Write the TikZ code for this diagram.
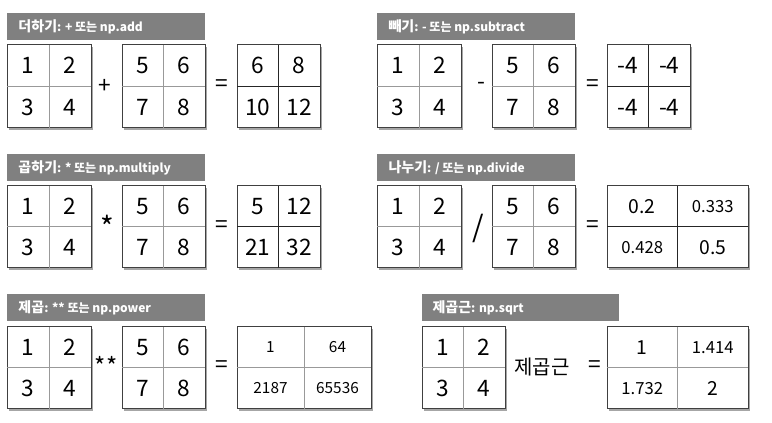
\documentclass[tikz,border=0pt]{standalone}
\usepackage{fontspec}
\newfontfamily\kr{Noto Sans CJK KR}
\usetikzlibrary{calc}

\newcommand{\midnum}{\fontsize{14.5}{14.5}\selectfont}
\newcommand{\smallnum}{\fontsize{12.5}{12.5}\selectfont}
\newcommand{\tinynum}{\fontsize{11.5}{11.5}\selectfont}
\newcommand{\headkr}{\bfseries\fontsize{10.5}{12}\selectfont}
\newcommand{\headrest}{\bfseries\fontsize{9}{11}\selectfont}

\tikzset{every picture/.style={line width=0.75pt},
  headbar/.style={fill=black!50},
  headtext/.style={anchor=west, text=white, inner sep=0pt, font=\kr},
  gridbox/.style={draw=black!75, fill=white},
  gridshadow/.style={fill=black!35},
  gridline/.style={draw=black!40},
  resultgrid/.style={gridline/.style={draw=black!85}},
  num/.style={inner sep=0pt, font=\kr\fontsize{17}{17}\selectfont},
  opsign/.style={inner sep=0pt, font=\kr\fontsize{17}{17}\selectfont},
}

% 2x2 grid: [options]{name}{(top left)}{(bottom right)}{a}{b}{c}{d}
\newcommand{\numgrid}[8][]{%
  \begin{scope}[#1]
  \path #3 coordinate (#2nw) #4 coordinate (#2se);
  \coordinate (#2m) at ($(#2nw)!0.5!(#2se)$);
  \fill[gridshadow] ($(#2nw)+(2,2)$) rectangle ($(#2se)+(2,2)$);
  \draw[gridbox] (#2nw) rectangle (#2se);
  \draw[gridline] (#2m |- #2nw) -- (#2m |- #2se);
  \draw[gridline] (#2m -| #2nw) -- (#2m -| #2se);
  \node[num] (#2a) at ($(#2nw)!0.5!(#2m)$) {#5};
  \node[num] (#2b) at ($(#2nw -| #2se)!0.5!(#2m)$) {#6};
  \node[num] (#2c) at ($(#2nw |- #2se)!0.5!(#2m)$) {#7};
  \node[num] (#2d) at ($(#2se)!0.5!(#2m)$) {#8};
  \end{scope}}

\begin{document}
\begin{tikzpicture}[x=0.75pt,y=0.75pt,yscale=-1,xscale=1]
\useasboundingbox (0,0) rectangle (772,423);

% Add
\fill[headbar] (7,13) rectangle (205,40);
\node[headtext] (addhead) at (18,26.5) {{\headkr 더하기}{\headrest: + 또는 np.add}};
\numgrid{addA}{(7,45)}{(91,128)}{1}{2}{3}{4}
\node[opsign] (addop) at (105,86) {+};
\numgrid{addB}{(122,45)}{(205,128)}{5}{6}{7}{8}
\node[opsign] (addeq) at (222,86) {=};
\numgrid[resultgrid]{addC}{(237,45)}{(320,128)}{6}{8}{10}{12}

% Subtract
\fill[headbar] (377,13) rectangle (575,40);
\node[headtext] (subhead) at (388,26.5) {{\headkr 빼기}{\headrest: - 또는 np.subtract}};
\numgrid{subA}{(377,45)}{(461,128)}{1}{2}{3}{4}
\node[opsign] (subop) at (481,86) {-};
\numgrid{subB}{(492,45)}{(575,128)}{5}{6}{7}{8}
\node[opsign] (subeq) at (593,86) {=};
\numgrid[resultgrid]{subC}{(607,45)}{(690,128)}{-4}{-4}{-4}{-4}

% Multiply
\fill[headbar] (7,154) rectangle (205,181);
\node[headtext] (mulhead) at (18,167.5) {{\headkr 곱하기}{\headrest: * 또는 np.multiply}};
\numgrid{mulA}{(7,186)}{(91,268)}{1}{2}{3}{4}
\node[opsign, font=\kr\fontsize{22}{22}\selectfont] (mulop) at (107,227) {*};
\numgrid{mulB}{(122,186)}{(205,268)}{5}{6}{7}{8}
\node[opsign] (muleq) at (222,227) {=};
\numgrid[resultgrid]{mulC}{(237,186)}{(320,268)}{5}{12}{21}{32}

% Divide
\fill[headbar] (377,154) rectangle (575,181);
\node[headtext] (divhead) at (388,167.5) {{\headkr 나누기}{\headrest: / 또는 np.divide}};
\numgrid{divA}{(377,186)}{(461,268)}{1}{2}{3}{4}
\node[opsign, font=\kr\fontsize{22}{22}\selectfont] (divop) at (478,228) {/};
\numgrid{divB}{(492,186)}{(575,268)}{5}{6}{7}{8}
\node[opsign] (diveq) at (593,227) {=};
\numgrid[resultgrid]{divC}{(607,186)}{(748,268)}{\midnum 0.2}{\smallnum 0.333}{\smallnum 0.428}{\midnum 0.5}

% Power
\fill[headbar] (7,294) rectangle (205,321);
\node[headtext] (powhead) at (18,307.5) {{\headkr 제곱}{\headrest: ** 또는 np.power}};
\numgrid{powA}{(7,327)}{(91,409)}{1}{2}{3}{4}
\node[opsign, font=\kr\fontsize{18}{18}\selectfont] (powop) at (106,366) {*\kern1pt*};
\numgrid{powB}{(122,327)}{(205,409)}{5}{6}{7}{8}
\node[opsign] (poweq) at (222,367) {=};
\numgrid{powC}{(237,327)}{(371,409)}{\tinynum 1}{\tinynum 64}{\tinynum 2187}{\tinynum 65536}

% Square root
\fill[headbar] (422,294) rectangle (619,321);
\node[headtext] (sqrthead) at (432,307.5) {{\headkr 제곱근}{\headrest: np.sqrt}};
\numgrid{sqrtA}{(422,327)}{(505,409)}{1}{2}{3}{4}
\node[opsign, font=\kr\fontsize{15}{15}\selectfont] (sqrtop) at (542,367) {제곱근};
\node[opsign] (sqrteq) at (595,367) {=};
\numgrid{sqrtC}{(607,327)}{(748,409)}{\midnum 1}{\smallnum 1.414}{\smallnum 1.732}{\midnum 2}

\end{tikzpicture}
\end{document}
